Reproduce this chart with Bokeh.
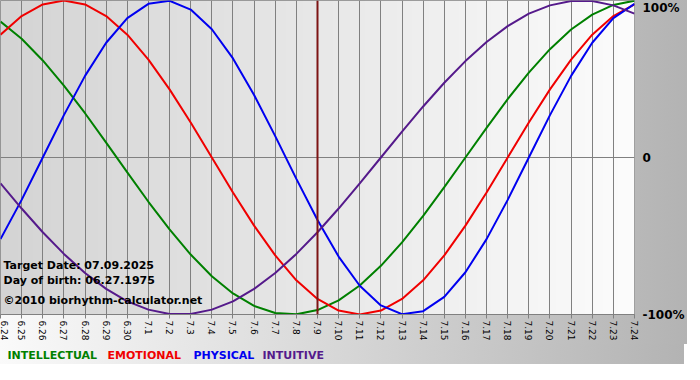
import numpy as np
from bokeh.plotting import figure
from bokeh.layouts import column
from bokeh.models import Range1d, FixedTicker, Span, Label, LinearAxis
from bokeh.embed import file_html
from bokeh.resources import INLINE

# ---- data ----
dates = ["6.24", "6.25", "6.26", "6.27", "6.28", "6.29", "6.30",
         "7.1", "7.2", "7.3", "7.4", "7.5", "7.6", "7.7", "7.8", "7.9",
         "7.10", "7.11", "7.12", "7.13", "7.14", "7.15", "7.16", "7.17",
         "7.18", "7.19", "7.20", "7.21", "7.22", "7.23", "7.24"]

intellectual = [0.866, 0.756, 0.618, 0.458, 0.282, 0.095, -0.095, -0.282, -0.458, -0.618,
                -0.756, -0.866, -0.945, -0.990, -0.999, -0.972, -0.910, -0.815, -0.690, -0.541,
                -0.372, -0.189, 0.0, 0.189, 0.372, 0.541, 0.690, 0.815, 0.910, 0.972, 0.999]

emotional = [0.782, 0.901, 0.975, 1.0, 0.975, 0.901, 0.782, 0.623, 0.434, 0.223,
             0.0, -0.223, -0.434, -0.623, -0.782, -0.901, -0.975, -1.0, -0.975, -0.901,
             -0.782, -0.623, -0.434, -0.223, 0.0, 0.223, 0.434, 0.623, 0.782, 0.901, 0.975]

physical = [-0.520, -0.270, 0.0, 0.270, 0.520, 0.731, 0.888, 0.979, 0.998, 0.942,
            0.817, 0.631, 0.398, 0.136, -0.136, -0.398, -0.631, -0.817, -0.942, -0.998,
            -0.979, -0.888, -0.731, -0.520, -0.270, 0.0, 0.270, 0.520, 0.731, 0.888, 0.979]

intuitive = [-0.165, -0.325, -0.476, -0.614, -0.736, -0.837, -0.916, -0.969, -0.997, -0.997,
             -0.969, -0.916, -0.837, -0.736, -0.614, -0.476, -0.325, -0.165, 0.0, 0.165,
             0.325, 0.476, 0.614, 0.736, 0.837, 0.916, 0.969, 0.997, 0.997, 0.969, 0.916]

y_ticks = [1, 0, -1]
y_tick_labels = ["100%", "0", "-100%"]
target_date = "7.9"
info_lines = ["Target Date: 07.09.2025", "Day of birth: 06.27.1975",
              "\u00a92010 biorhythm-calculator.net"]
series_names = ["INTELLECTUAL", "EMOTIONAL", "PHYSICAL", "INTUITIVE"]

# ---- styling ----
colors = ["#008000", "#f00000", "#0000f0", "#551a8b"]
grid_color = "#808080"
outer_bg = "linear-gradient(to right, #fafafa, #b3b3b3)"
FW = 634       # frame width
RB = 50        # right border (labels)

x = list(range(len(dates)))

p = figure(frame_width=FW, frame_height=314, output_backend="svg", toolbar_location=None,
           x_range=Range1d(x[0], x[-1]), y_range=Range1d(-1, 1),
           y_axis_location=None,
           min_border_left=0, min_border_right=RB, min_border_top=0, min_border_bottom=30)

p.styles = {"background": outer_bg}
p.border_fill_color = None
p.background_fill_color = None
p.outline_line_color = grid_color

# frame gradient background
n = 256
g = np.linspace(212, 252, n).astype(np.uint8)
img = np.zeros((1, n), dtype=np.uint32)
view = img.view(dtype=np.uint8).reshape((1, n, 4))
view[0, :, 0] = g
view[0, :, 1] = g
view[0, :, 2] = g
view[0, :, 3] = 255
p.image_rgba(image=[img], x=x[0], y=-1, dw=x[-1] - x[0], dh=2, level="image")

# grids
p.xgrid.ticker = FixedTicker(ticks=x)
p.ygrid.ticker = FixedTicker(ticks=y_ticks)
for gr in (p.xgrid[0], p.ygrid[0]):
    gr.grid_line_color = grid_color
    gr.grid_line_width = 1
    gr.grid_line_alpha = 1

# x axis
xa = p.xaxis[0]
xa.ticker = FixedTicker(ticks=x)
xa.major_label_overrides = {i: d for i, d in zip(x, dates)}
xa.major_label_orientation = -np.pi / 2
xa.major_label_text_font = "DejaVu Sans"
xa.major_label_text_font_size = "9px"
xa.major_label_text_color = "black"
xa.axis_line_color = grid_color
xa.major_tick_line_color = grid_color
xa.major_tick_out = 4
xa.major_tick_in = 0
xa.minor_tick_line_color = None
xa.major_label_standoff = 2

# right axis: top label sits just inside the top edge, like the reference
top_label_pos = 0.955
label_pos = [top_label_pos if v == 1 else v for v in y_ticks]
ra = LinearAxis(ticker=FixedTicker(ticks=label_pos),
                major_label_overrides={pos: lab for pos, lab in zip(label_pos, y_tick_labels)})
ra.axis_line_color = None
ra.major_tick_line_color = None
ra.minor_tick_line_color = None
ra.major_tick_out = 0
ra.major_tick_in = 0
ra.minor_tick_out = 0
ra.minor_tick_in = 0
ra.major_label_standoff = 8
ra.major_label_text_font = "DejaVu Sans"
ra.major_label_text_font_style = "bold"
ra.major_label_text_font_size = "12px"
ra.major_label_text_color = "black"
p.add_layout(ra, "right")

# curves
for vals, c in zip([intellectual, emotional, physical, intuitive], colors):
    p.line(x, vals, line_color=c, line_width=2)

# target date line
p.add_layout(Span(location=dates.index(target_date), dimension="height",
                  line_color="#7d1414", line_width=2))

# info text
for txt, off in zip(info_lines, [49, 34, 14]):
    p.add_layout(Label(x=x[0], y=-1, x_offset=3, y_offset=off, text=txt,
                       text_font="DejaVu Sans", text_font_style="bold",
                       text_font_size="11px", text_color="black", text_baseline="middle"))

# legend row (separate strip below the chart, frame aligned with the chart)
leg = figure(frame_width=FW, frame_height=20, output_backend="svg", toolbar_location=None,
             x_range=Range1d(0, FW), y_range=Range1d(0, 20),
             x_axis_location=None, y_axis_location=None,
             min_border_left=0, min_border_right=RB, min_border_top=0, min_border_bottom=0)
leg.styles = {"background": outer_bg}
leg.border_fill_color = None
leg.background_fill_color = None
leg.outline_line_color = None
leg.grid.visible = False
for name, c, xo in zip(series_names, colors, [7, 107, 193, 262]):
    leg.add_layout(Label(x=xo, y=9, text=name,
                         text_font="DejaVu Sans", text_font_style="bold",
                         text_font_size="11px", text_color=c, text_baseline="middle"))

layout = column(p, leg, spacing=0)
open("out.html", "w").write(file_html(layout, INLINE))
